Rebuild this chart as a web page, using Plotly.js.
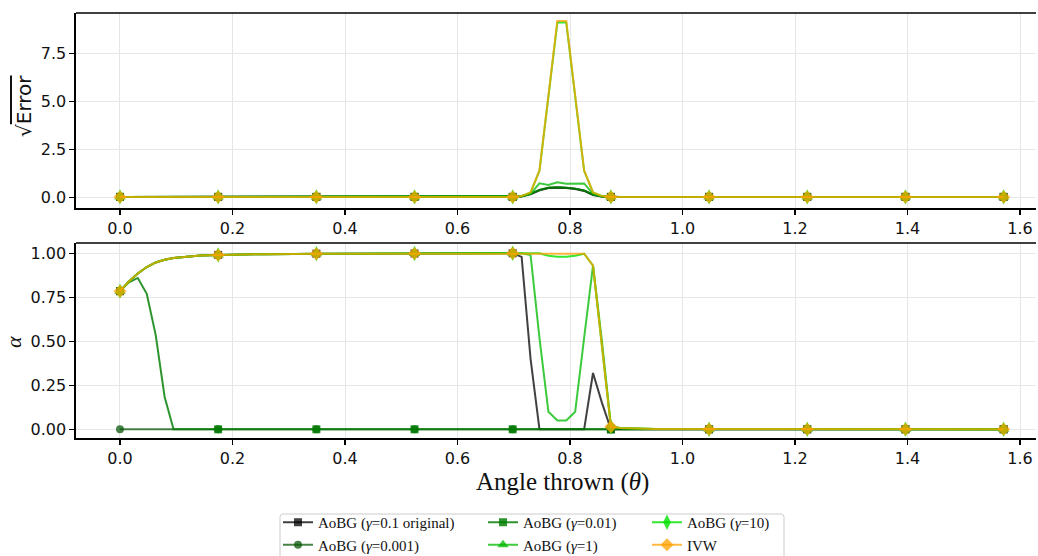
<!DOCTYPE html>
<html>
<head>
<meta charset="utf-8">
<script src="https://cdn.plot.ly/plotly-3.0.1.min.js"></script>
<style>
  html, body { margin: 0; padding: 0; background: #ffffff; }
  #chart { width: 1038px; height: 556px; }
</style>
</head>
<body>
<div id="chart"></div>
<script>
// ---------------- DATA ----------------
const theta = [
  0.0000, 0.0159, 0.0317, 0.0476, 0.0635, 0.0793, 0.0952, 0.1111, 0.1269, 0.1428,
  0.1587, 0.1745, 0.1904, 0.2063, 0.2221, 0.2380, 0.2539, 0.2697, 0.2856, 0.3015,
  0.3173, 0.3332, 0.3491, 0.3649, 0.3808, 0.3967, 0.4125, 0.4284, 0.4443, 0.4601,
  0.4760, 0.4919, 0.5077, 0.5236, 0.5395, 0.5553, 0.5712, 0.5871, 0.6029, 0.6188,
  0.6347, 0.6505, 0.6664, 0.6823, 0.6981, 0.7140, 0.7299, 0.7457, 0.7616, 0.7775,
  0.7933, 0.8092, 0.8251, 0.8409, 0.8568, 0.8727, 0.8885, 0.9044, 0.9203, 0.9361,
  0.9520, 0.9679, 0.9837, 0.9996, 1.0155, 1.0313, 1.0472, 1.0631, 1.0789, 1.0948,
  1.1107, 1.1265, 1.1424, 1.1583, 1.1741, 1.1900, 1.2059, 1.2217, 1.2376, 1.2535,
  1.2693, 1.2852, 1.3011, 1.3169, 1.3328, 1.3487, 1.3645, 1.3804, 1.3963, 1.4121,
  1.4280, 1.4439, 1.4597, 1.4756, 1.4915, 1.5073, 1.5232, 1.5391, 1.5549, 1.5708
];

const seriesNames = [
  'AoBG (<i>γ</i>=0.1 original)',
  'AoBG (<i>γ</i>=0.001)',
  'AoBG (<i>γ</i>=0.01)',
  'AoBG (<i>γ</i>=1)',
  'AoBG (<i>γ</i>=10)',
  'IVW'
];

// alpha (bottom panel)
const alphaOrig = [
  0.785,0.840,0.885,0.922,0.948,0.963,0.973,0.979,0.984,0.987,
  0.989,0.991,0.992,0.993,0.994,0.995,0.995,0.996,0.996,0.997,
  0.997,0.997,0.998,0.998,0.998,0.998,0.998,0.999,0.999,0.999,
  0.999,0.999,0.999,0.999,0.999,1,1,1,1,1,
  1,1,1,1,1,0.98,0.40,0,0,0,
  0,0,0,0.32,0.15,0,0,0,0,0,
  0,0,0,0,0,0,0,0,0,0,
  0,0,0,0,0,0,0,0,0,0,
  0,0,0,0,0,0,0,0,0,0,
  0,0,0,0,0,0,0,0,0,0
];
const alphaG001 = [
  0,0,0,0,0,0,0,0,0,0,
  0,0,0,0,0,0,0,0,0,0,
  0,0,0,0,0,0,0,0,0,0,
  0,0,0,0,0,0,0,0,0,0,
  0,0,0,0,0,0,0,0,0,0,
  0,0,0,0,0,0,0,0,0,0,
  0,0,0,0,0,0,0,0,0,0,
  0,0,0,0,0,0,0,0,0,0,
  0,0,0,0,0,0,0,0,0,0,
  0,0,0,0,0,0,0,0,0,0
];
const alphaG01 = [
  0.785,0.835,0.860,0.770,0.535,0.185,0,0,0,0,
  0,0,0,0,0,0,0,0,0,0,
  0,0,0,0,0,0,0,0,0,0,
  0,0,0,0,0,0,0,0,0,0,
  0,0,0,0,0,0,0,0,0,0,
  0,0,0,0,0,0,0,0,0,0,
  0,0,0,0,0,0,0,0,0,0,
  0,0,0,0,0,0,0,0,0,0,
  0,0,0,0,0,0,0,0,0,0,
  0,0,0,0,0,0,0,0,0,0
];
const alphaG1 = [
  0.785,0.840,0.885,0.922,0.948,0.963,0.973,0.979,0.984,0.987,
  0.989,0.991,0.992,0.993,0.994,0.995,0.995,0.996,0.996,0.997,
  0.997,0.997,0.998,0.998,0.998,0.998,0.998,0.999,0.999,0.999,
  0.999,0.999,0.999,0.999,0.999,1,1,1,1,1,
  1,1,1,1,1,1,0.99,0.52,0.10,0.05,
  0.05,0.10,0.52,0.93,0.50,0.02,0.008,0.005,0.004,0.003,
  0.002,0.002,0.002,0.001,0.001,0.001,0,0,0,0,
  0,0,0,0,0,0,0,0,0,0,
  0,0,0,0,0,0,0,0,0,0,
  0,0,0,0,0,0,0,0,0,0
];
const alphaG10 = [
  0.785,0.840,0.885,0.922,0.948,0.963,0.973,0.979,0.984,0.987,
  0.989,0.991,0.992,0.993,0.994,0.995,0.995,0.996,0.996,0.997,
  0.997,0.997,0.998,0.998,0.998,0.998,0.998,0.999,0.999,0.999,
  0.999,0.999,0.999,0.999,0.999,1,1,1,1,1,
  1,1,1,1,1,1,1,1,0.986,0.980,
  0.980,0.986,0.998,0.93,0.47,0.015,0.008,0.005,0.004,0.003,
  0.002,0.002,0.002,0.001,0.001,0.001,0,0,0,0,
  0,0,0,0,0,0,0,0,0,0,
  0,0,0,0,0,0,0,0,0,0,
  0,0,0,0,0,0,0,0,0,0
];
const alphaIVW = [
  0.785,0.840,0.885,0.922,0.948,0.963,0.973,0.979,0.984,0.987,
  0.989,0.991,0.992,0.993,0.994,0.995,0.995,0.996,0.996,0.997,
  0.997,0.997,0.998,0.998,0.998,0.998,0.998,0.999,0.999,0.999,
  0.999,0.999,0.999,0.999,0.999,1,1,1,1,1,
  1,1,1,1,1,1,1,1,1,1,
  1,1,0.998,0.93,0.47,0.015,0.008,0.005,0.004,0.003,
  0.002,0.002,0.002,0.001,0.001,0.001,0,0,0,0,
  0,0,0,0,0,0,0,0,0,0,
  0,0,0,0,0,0,0,0,0,0,
  0,0,0,0,0,0,0,0,0,0
];

// sqrt(Error) (top panel)
const errOrig = [
  0.02,0.02,0.02,0.02,0.02,0.02,0.02,0.02,0.02,0.02,
  0.02,0.02,0.02,0.02,0.02,0.02,0.02,0.02,0.02,0.02,
  0.02,0.02,0.02,0.02,0.02,0.02,0.02,0.02,0.02,0.02,
  0.02,0.02,0.02,0.02,0.02,0.02,0.02,0.02,0.02,0.02,
  0.02,0.02,0.02,0.02,0.02,0.04,0.15,0.36,0.48,0.50,
  0.48,0.43,0.33,0.12,0.04,0.02,0.02,0.02,0.02,0.02,
  0.02,0.02,0.02,0.02,0.02,0.02,0.02,0.02,0.02,0.02,
  0.02,0.02,0.02,0.02,0.02,0.02,0.02,0.02,0.02,0.02,
  0.02,0.02,0.02,0.02,0.02,0.02,0.02,0.02,0.02,0.02,
  0.02,0.02,0.02,0.02,0.02,0.02,0.02,0.02,0.02,0.02
];
const errG001 = [
  0.02,0.02,0.02,0.02,0.02,0.02,0.02,0.02,0.02,0.02,
  0.02,0.02,0.02,0.02,0.02,0.02,0.02,0.02,0.02,0.02,
  0.02,0.02,0.02,0.02,0.02,0.02,0.02,0.02,0.02,0.02,
  0.02,0.02,0.02,0.02,0.02,0.02,0.02,0.02,0.02,0.02,
  0.02,0.02,0.02,0.02,0.02,0.05,0.18,0.38,0.50,0.52,
  0.50,0.45,0.35,0.14,0.04,0.02,0.02,0.02,0.02,0.02,
  0.02,0.02,0.02,0.02,0.02,0.02,0.02,0.02,0.02,0.02,
  0.02,0.02,0.02,0.02,0.02,0.02,0.02,0.02,0.02,0.02,
  0.02,0.02,0.02,0.02,0.02,0.02,0.02,0.02,0.02,0.02,
  0.02,0.02,0.02,0.02,0.02,0.02,0.02,0.02,0.02,0.02
];
const errG01 = [
  0.02,0.02,0.02,0.02,0.02,0.02,0.02,0.02,0.02,0.02,
  0.02,0.02,0.02,0.02,0.02,0.02,0.02,0.02,0.02,0.02,
  0.02,0.02,0.02,0.02,0.02,0.02,0.02,0.02,0.02,0.02,
  0.02,0.02,0.02,0.02,0.02,0.02,0.02,0.02,0.02,0.02,
  0.02,0.02,0.02,0.02,0.02,0.05,0.18,0.38,0.50,0.52,
  0.50,0.45,0.35,0.14,0.04,0.02,0.02,0.02,0.02,0.02,
  0.02,0.02,0.02,0.02,0.02,0.02,0.02,0.02,0.02,0.02,
  0.02,0.02,0.02,0.02,0.02,0.02,0.02,0.02,0.02,0.02,
  0.02,0.02,0.02,0.02,0.02,0.02,0.02,0.02,0.02,0.02,
  0.02,0.02,0.02,0.02,0.02,0.02,0.02,0.02,0.02,0.02
];
const errG1 = [
  0.02,0.02,0.02,0.02,0.02,0.02,0.02,0.02,0.02,0.02,
  0.02,0.02,0.02,0.02,0.02,0.02,0.02,0.02,0.02,0.02,
  0.02,0.02,0.02,0.02,0.02,0.02,0.02,0.02,0.02,0.02,
  0.02,0.02,0.02,0.02,0.02,0.02,0.02,0.02,0.02,0.02,
  0.02,0.02,0.02,0.02,0.02,0.05,0.18,0.73,0.64,0.78,
  0.70,0.70,0.72,0.18,0.05,0.02,0.02,0.02,0.02,0.02,
  0.02,0.02,0.02,0.02,0.02,0.02,0.02,0.02,0.02,0.02,
  0.02,0.02,0.02,0.02,0.02,0.02,0.02,0.02,0.02,0.02,
  0.02,0.02,0.02,0.02,0.02,0.02,0.02,0.02,0.02,0.02,
  0.02,0.02,0.02,0.02,0.02,0.02,0.02,0.02,0.02,0.02
];
const errG10 = [
  0.02,0.02,0.02,0.02,0.02,0.02,0.02,0.02,0.02,0.02,
  0.02,0.02,0.02,0.02,0.02,0.02,0.02,0.02,0.02,0.02,
  0.02,0.02,0.02,0.02,0.02,0.02,0.02,0.02,0.02,0.02,
  0.02,0.02,0.02,0.02,0.02,0.02,0.02,0.02,0.02,0.02,
  0.02,0.02,0.02,0.02,0.02,0.06,0.25,1.38,5.20,9.10,
  9.10,5.20,1.38,0.25,0.06,0.02,0.02,0.02,0.02,0.02,
  0.02,0.02,0.02,0.02,0.02,0.02,0.02,0.02,0.02,0.02,
  0.02,0.02,0.02,0.02,0.02,0.02,0.02,0.02,0.02,0.02,
  0.02,0.02,0.02,0.02,0.02,0.02,0.02,0.02,0.02,0.02,
  0.02,0.02,0.02,0.02,0.02,0.02,0.02,0.02,0.02,0.02
];
const errIVW = [
  0.02,0.02,0.02,0.02,0.02,0.02,0.02,0.02,0.02,0.02,
  0.02,0.02,0.02,0.02,0.02,0.02,0.02,0.02,0.02,0.02,
  0.02,0.02,0.02,0.02,0.02,0.02,0.02,0.02,0.02,0.02,
  0.02,0.02,0.02,0.02,0.02,0.02,0.02,0.02,0.02,0.02,
  0.02,0.02,0.02,0.02,0.02,0.06,0.25,1.40,5.25,9.18,
  9.18,5.25,1.40,0.25,0.06,0.02,0.02,0.02,0.02,0.02,
  0.02,0.02,0.02,0.02,0.02,0.02,0.02,0.02,0.02,0.02,
  0.02,0.02,0.02,0.02,0.02,0.02,0.02,0.02,0.02,0.02,
  0.02,0.02,0.02,0.02,0.02,0.02,0.02,0.02,0.02,0.02,
  0.02,0.02,0.02,0.02,0.02,0.02,0.02,0.02,0.02,0.02
];

const xTickVals = [0.0, 0.2, 0.4, 0.6, 0.8, 1.0, 1.2, 1.4, 1.6];
const errTickVals = [0.0, 2.5, 5.0, 7.5];
const alphaTickVals = [0.00, 0.25, 0.50, 0.75, 1.00];

// ---------------- STYLE ----------------
const alphaData = [alphaOrig, alphaG001, alphaG01, alphaG1, alphaG10, alphaIVW];
const errData = [errOrig, errG001, errG01, errG1, errG10, errIVW];
const styles = [
  {color: 'rgba(0,0,0,0.75)',     symbol: 'square',       size: 8,  legend: 'legend'},
  {color: 'rgba(10,90,10,0.75)',  symbol: 'circle',       size: 8,  legend: 'legend'},
  {color: 'rgba(0,125,0,0.82)',   symbol: 'square',       size: 8,  legend: 'legend2'},
  {color: 'rgba(0,185,0,0.76)',   symbol: 'triangle-up',  size: 10, legend: 'legend2'},
  {color: 'rgba(0,225,0,0.80)',   symbol: 'diamond-tall', size: 11, legend: 'legend3'},
  {color: 'rgba(255,160,0,0.75)', symbol: 'diamond',      size: 10, legend: 'legend3'}
];
const markEvery = 11;

const W = 1038, H = 556;
const M = {l: 76, r: 2, t: 13, b: 118};
const plotW = W - M.l - M.r, plotH = H - M.t - M.b;
const px = v => (v - M.l) / plotW;           // pixel x -> paper x
const py = v => (H - M.b - v) / plotH;       // pixel y -> paper y

const traces = [];
const pick = arr => arr.filter((_, i) => i % markEvery === 0);

alphaData.forEach((al, s) => {
  const st = styles[s];
  const panels = [{y: errData[s], xa: 'x', ya: 'y'}, {y: al, xa: 'x2', ya: 'y2'}];
  panels.forEach(p => {
    traces.push({
      x: theta, y: p.y, xaxis: p.xa, yaxis: p.ya, type: 'scatter', mode: 'lines',
      line: {color: st.color, width: 2}, showlegend: false, hoverinfo: 'skip'
    });
    traces.push({
      x: pick(theta), y: pick(p.y), xaxis: p.xa, yaxis: p.ya, type: 'scatter', mode: 'markers',
      marker: {color: st.color, symbol: st.symbol, size: st.size, line: {width: 0}},
      showlegend: false, hoverinfo: 'skip'
    });
  });
  traces.push({
    x: [null], y: [null], xaxis: 'x2', yaxis: 'y2', type: 'scatter', mode: 'lines+markers',
    name: seriesNames[s], legend: st.legend,
    line: {color: st.color, width: 2},
    marker: {color: st.color, symbol: st.symbol, size: st.size, line: {width: 0}}
  });
});

const tickFont = {family: 'DejaVu Sans, sans-serif', size: 16, color: '#111111'};
const commonAxis = {
  showline: true, linecolor: '#000000', linewidth: 1.6,
  ticks: 'outside', ticklen: 5, tickwidth: 1.1, tickcolor: '#000000',
  showgrid: true, gridcolor: '#e6e6e6', gridwidth: 1,
  zeroline: false, tickfont: tickFont, fixedrange: true
};
const xRange = [-0.0782, 1.6284];

const legendFont = {family: 'Liberation Serif, serif', size: 15, color: '#111111'};
function legendAt(xpix) {
  return {
    x: px(xpix), y: py(506), xref: 'paper', yref: 'paper',
    xanchor: 'left', yanchor: 'top', orientation: 'v',
    bgcolor: 'rgba(0,0,0,0)', borderwidth: 0, font: legendFont,
    itemclick: false, itemdoubleclick: false, tracegroupgap: 0
  };
}

// rounded legend frame
const fx0 = 280, fx1 = 784, fy0 = 514, fy1 = 566, r = 3;
const P = (x, y) => px(x) + ',' + py(y);
const framePath = 'M' + P(fx0 + r, fy0) + ' L' + P(fx1 - r, fy0) + ' Q' + P(fx1, fy0) + ' ' + P(fx1, fy0 + r) +
  ' L' + P(fx1, fy1) + ' L' + P(fx0, fy1) + ' L' + P(fx0, fy0 + r) + ' Q' + P(fx0, fy0) + ' ' + P(fx0 + r, fy0) + ' Z';

const layout = {
  width: W, height: H,
  margin: {l: M.l, r: M.r, t: M.t, b: M.b, pad: 0, autoexpand: false},
  paper_bgcolor: '#ffffff', plot_bgcolor: '#ffffff',
  showlegend: true,
  xaxis: Object.assign({}, commonAxis, {domain: [0, 1], anchor: 'y', range: xRange,
    tickvals: xTickVals, tickformat: '.1f'}),
  yaxis: Object.assign({}, commonAxis, {domain: [0.541, 1], anchor: 'x', range: [-0.5625, 9.594],
    tickvals: errTickVals, tickformat: '.1f'}),
  xaxis2: Object.assign({}, commonAxis, {domain: [0, 1], anchor: 'y2', range: xRange,
    tickvals: xTickVals, tickformat: '.1f'}),
  yaxis2: Object.assign({}, commonAxis, {domain: [0, 0.4588], anchor: 'x2', range: [-0.0494, 1.0585],
    tickvals: alphaTickVals, tickformat: '.2f'}),
  legend: legendAt(278),
  legend2: legendAt(483),
  legend3: legendAt(647),
  shapes: [
    {type: 'line', xref: 'x domain', yref: 'y domain', x0: 0, x1: 1, y0: 1, y1: 1,
     line: {color: '#000000', width: 1.6}},
    {type: 'line', xref: 'x2 domain', yref: 'y2 domain', x0: 0, x1: 1, y0: 1, y1: 1,
     line: {color: '#000000', width: 1.6}},
    {type: 'path', xref: 'paper', yref: 'paper', path: framePath,
     line: {color: '#cccccc', width: 1}, fillcolor: 'rgba(0,0,0,0)', layer: 'above'}
  ],
  annotations: [
    {text: '√<span style="text-decoration:overline">Error</span>', xref: 'paper', yref: 'paper',
     x: px(24), y: py(106), xanchor: 'center', yanchor: 'middle', textangle: -90, showarrow: false,
     font: {family: 'DejaVu Sans, sans-serif', size: 20, color: '#111111'}},
    {text: '<i>α</i>', xref: 'paper', yref: 'paper',
     x: px(13), y: py(342), xanchor: 'center', yanchor: 'middle', textangle: -90, showarrow: false,
     font: {family: 'Liberation Serif, serif', size: 22, color: '#111111'}},
    {text: 'Angle thrown (<i>θ</i>)', xref: 'paper', yref: 'paper',
     x: px(562.5), y: py(482), xanchor: 'center', yanchor: 'middle', showarrow: false,
     font: {family: 'Liberation Serif, serif', size: 25, color: '#111111'}}
  ]
};

Plotly.newPlot('chart', traces, layout, {displayModeBar: false, staticPlot: true});
</script>
</body>
</html>
